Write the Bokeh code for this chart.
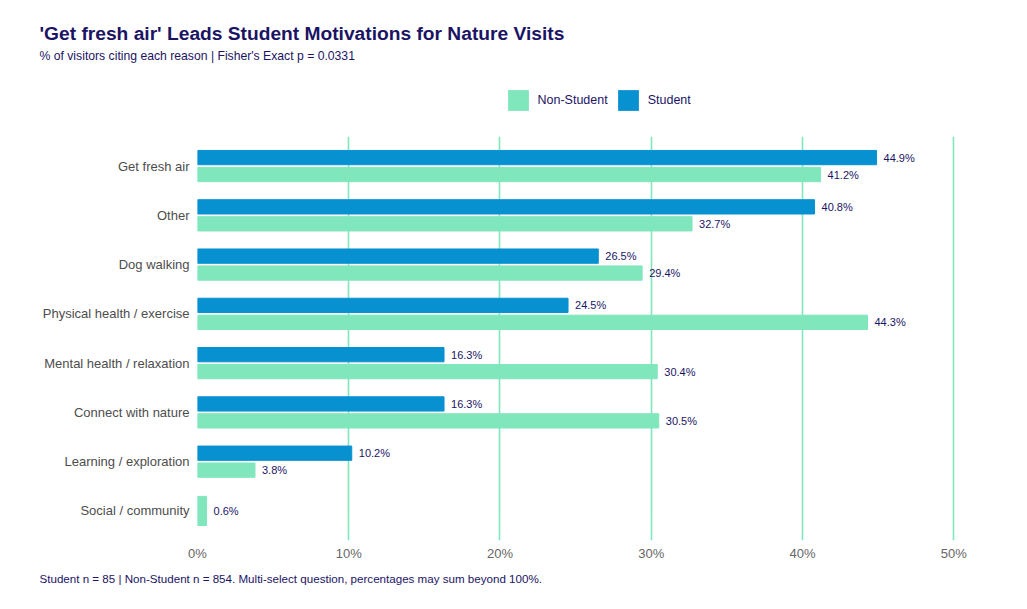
from bokeh.plotting import figure
from bokeh.layouts import column
from bokeh.models import (ColumnDataSource, FactorRange, Range1d, Legend, LegendItem, Title,
                          FixedTicker, CustomJSTickFormatter)
from bokeh.transform import dodge
from bokeh.core.properties import value
from bokeh.embed import file_html
from bokeh.resources import INLINE

categories = ["Get fresh air", "Other", "Dog walking", "Physical health / exercise",
              "Mental health / relaxation", "Connect with nature",
              "Learning / exploration", "Social / community"]
student = [44.9, 40.8, 26.5, 24.5, 16.3, 16.3, 10.2, None]
non_student = [41.2, 32.7, 29.4, 44.3, 30.4, 30.5, 3.8, 0.6]
x_ticks = [0, 10, 20, 30, 40, 50]
series_names = ["Non-Student", "Student"]

title_text = "'Get fresh air' Leads Student Motivations for Nature Visits"
subtitle_text = "% of visitors citing each reason | Fisher's Exact p = 0.0331"
footer_text = "Student n = 85 | Non-Student n = 854. Multi-select question, percentages may sum beyond 100%."

C_STUDENT = "#0891d1"
C_NON = "#80e6bc"
NAVY = "#1b1464"
FONT = "Liberation Sans"
W = 1011
HEAD_H = 130
MAIN_H = 463

# ---------------- header (title, subtitle, legend) ----------------
head = figure(width=W, height=HEAD_H, x_range=Range1d(0, 100), y_range=Range1d(0, 100),
              output_backend="svg", toolbar_location=None,
              min_border_left=197, min_border_right=20, min_border_top=64, min_border_bottom=0)
head.axis.visible = False
head.grid.visible = False
head.outline_line_color = None

head.add_layout(Title(text=subtitle_text, align="left", offset=-158, text_font=FONT,
                      text_font_size="12.2px", text_font_style="normal", text_color=NAVY,
                      standoff=4), "above")
head.add_layout(Title(text=title_text, align="left", offset=-158, text_font=FONT,
                      text_font_size="19.2px", text_font_style="bold", text_color=NAVY,
                      standoff=1), "above")

# legend swatches (zero-size placeholder bars carry the legend styling)
key_src = ColumnDataSource(dict(y=[0], right=[0]))
d_non = head.hbar(y="y", right="right", height=0, source=key_src, fill_color=C_NON, line_color=None)
d_stu = head.hbar(y="y", right="right", height=0, source=key_src, fill_color=C_STUDENT, line_color=None)
legend = Legend(items=[LegendItem(label=series_names[0], renderers=[d_non]),
                       LegendItem(label=series_names[1], renderers=[d_stu])],
                orientation="horizontal", location=(307.5, HEAD_H - 113),
                label_text_font=FONT, label_text_font_size="12.5px", label_text_color=NAVY,
                glyph_width=26, glyph_height=26, label_standoff=7, spacing=7,
                border_line_color=None, background_fill_alpha=0, margin=0, padding=0,
                label_height=26)
head.add_layout(legend, "center")

# ---------------- main chart ----------------
pair_cat, pair_s, pair_n = [], [], []
solo_cat, solo_v = [], []
for c, s, n in zip(categories, student, non_student):
    if s is not None and n is not None:
        pair_cat.append(c); pair_s.append(s); pair_n.append(n)
    elif n is not None:
        solo_cat.append(c); solo_v.append(n)

fmt = lambda v: f"{v:.1f}%"
src_s = ColumnDataSource(dict(cat=pair_cat, val=pair_s, lab=[fmt(v) for v in pair_s]))
src_n = ColumnDataSource(dict(cat=pair_cat, val=pair_n, lab=[fmt(v) for v in pair_n]))
src_solo = ColumnDataSource(dict(cat=solo_cat, val=solo_v, lab=[fmt(v) for v in solo_v]))

yr = FactorRange(factors=list(reversed(categories)), range_padding=0.025)
p = figure(width=W, height=MAIN_H, y_range=yr, x_range=Range1d(0, 52.5),
           output_backend="svg", toolbar_location=None,
           min_border_left=197, min_border_right=20, min_border_bottom=53, min_border_top=6)
p.outline_line_color = None

OFF = 0.172
H = 0.29
r_s = p.hbar(y=dodge("cat", OFF, range=yr), right="val", left=0, height=H, source=src_s,
             fill_color=C_STUDENT, line_color=C_STUDENT)
r_n = p.hbar(y=dodge("cat", -OFF, range=yr), right="val", left=0, height=H, source=src_n,
             fill_color=C_NON, line_color=C_NON)
r_solo = p.hbar(y="cat", right="val", left=0, height=0.59, source=src_solo,
                fill_color=C_NON, line_color=C_NON)

for src, y in [(src_s, dodge("cat", OFF, range=yr)), (src_n, dodge("cat", -OFF, range=yr)),
               (src_solo, "cat")]:
    p.text(x="val", y=y, text="lab", source=src, x_offset=7, text_baseline="middle",
           text_align="left", text_font=value(FONT), text_font_size="11px", text_color=NAVY)

p.ygrid.grid_line_color = None
p.xgrid.grid_line_color = C_NON
p.xgrid.grid_line_width = 1.6
p.xaxis.ticker = FixedTicker(ticks=x_ticks)
p.xaxis.formatter = CustomJSTickFormatter(code="return tick + '%';")
for ax in (p.xaxis[0], p.yaxis[0]):
    ax.axis_line_color = None
    ax.major_tick_line_color = None
    ax.minor_tick_line_color = None
    ax.major_tick_out = 0
    ax.major_tick_in = 0
    ax.major_label_text_font = FONT
    ax.major_label_text_font_size = "13px"
p.xaxis.major_label_text_color = "#666666"
p.yaxis.major_label_text_color = "#4d4d4d"
p.xaxis.major_label_standoff = 5
p.yaxis.major_label_standoff = 8

p.add_layout(Title(text=footer_text, align="left", offset=-158, text_font=FONT,
                   text_font_size="11.6px", text_font_style="normal", text_color=NAVY,
                   standoff=13), "below")

layout = column(head, p, spacing=0)
open("out.html", "w").write(file_html(layout, INLINE))
